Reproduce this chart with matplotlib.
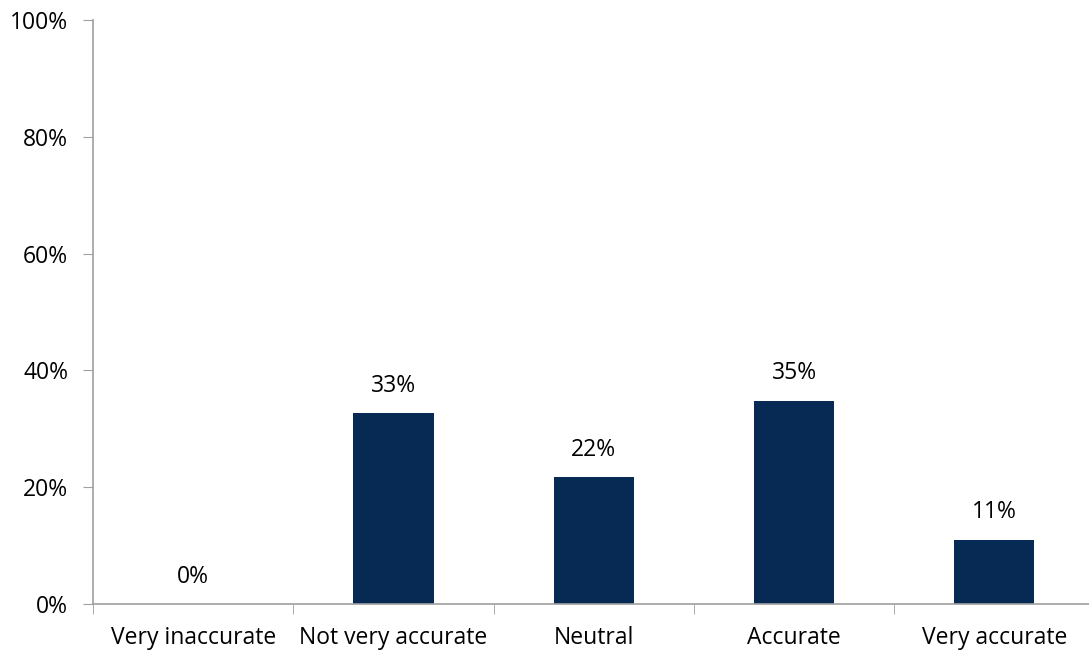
import matplotlib.pyplot as plt
import numpy as np

plt.rcParams['font.family'] = ['Open Sans', 'DejaVu Sans']

categories = ['Very inaccurate', 'Not very accurate', 'Neutral', 'Accurate', 'Very accurate']
values = [0.0, 32.7, 21.7, 34.8, 11.0]
labels = ['0%', '33%', '22%', '35%', '11%']
yticks = [0, 20, 40, 60, 80, 100]

fig = plt.figure(figsize=(10.89, 6.51), dpi=100)
ax = fig.add_axes([93 / 1089, 1 - 604 / 651, 1001.5 / 1089, 584 / 651])

x = np.arange(len(categories))
bars = ax.bar(x, values, width=0.4, color='#062a54', zorder=2)

for xi, v, lab in zip(x, values, labels):
    ax.annotate(lab, (xi, v), xytext=(0, 11), textcoords='offset points',
                ha='center', va='bottom', fontsize=16.5, color='black')

ax.set_xlim(-0.5, 4.5)
ax.set_ylim(0, 100)
ax.set_yticks(yticks)
ax.set_yticklabels([f'{t}%' for t in yticks], fontsize=16.5)

# category labels, ticks between categories
ax.set_xticks(x)
ax.set_xticklabels(categories, fontsize=16.5)
ax.tick_params(axis='x', which='major', length=0, pad=16)
ax.set_xticks(np.arange(-0.5, 4.6, 1.0), minor=True)
ax.tick_params(axis='x', which='minor', length=7, color='#a0a0a0', direction='out')
ax.tick_params(axis='y', length=7, color='#a0a0a0', direction='out', pad=11)

for s in ['top', 'right']:
    ax.spines[s].set_visible(False)
for s in ['left', 'bottom']:
    ax.spines[s].set_color('#a0a0a0')
    ax.spines[s].set_linewidth(1.2)

fig.savefig('out.png', dpi=100)
